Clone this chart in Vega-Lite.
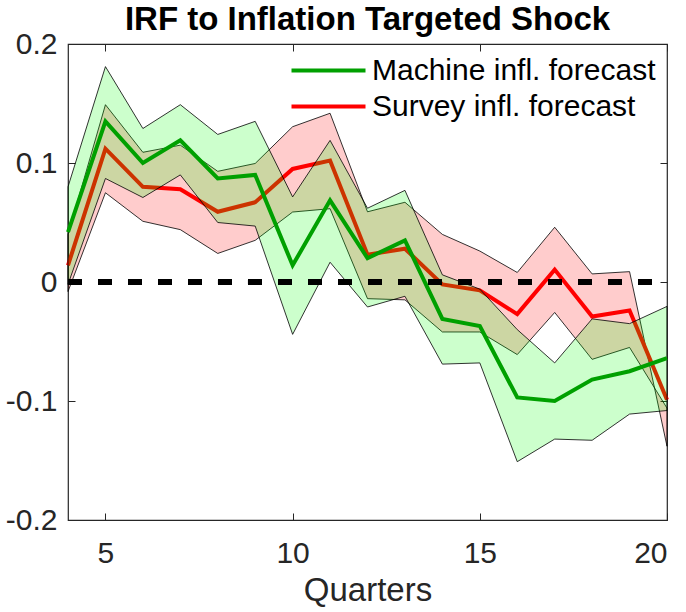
{
  "$schema": "https://vega.github.io/schema/vega-lite/v6.json",
  "width": 599,
  "height": 476,
  "autosize": "none",
  "padding": {"left": 68, "top": 44, "right": 19, "bottom": 92},
  "background": "white",
  "config": {
    "font": "Liberation Sans",
    "view": {"stroke": "#262626", "strokeWidth": 1.2},
    "axis": {"grid": false, "domain": false, "tickColor": "#262626", "tickWidth": 1, "labelColor": "#262626", "titleColor": "#262626", "labelFont": "Liberation Sans", "titleFont": "Liberation Sans"}
  },
  "title": {"text": "IRF to Inflation Targeted Shock", "fontSize": 33, "fontWeight": "bold", "color": "black", "anchor": "middle", "offset": -8, "font": "Liberation Sans"},
  "datasets": {
    "machine": [
      {"q": 4, "lo": -0.002, "mid": 0.042, "hi": 0.080},
      {"q": 5, "lo": 0.087, "mid": 0.135, "hi": 0.181},
      {"q": 6, "lo": 0.071, "mid": 0.100, "hi": 0.129},
      {"q": 7, "lo": 0.090, "mid": 0.119, "hi": 0.149},
      {"q": 8, "lo": 0.050, "mid": 0.087, "hi": 0.124},
      {"q": 9, "lo": 0.047, "mid": 0.090, "hi": 0.135},
      {"q": 10, "lo": -0.044, "mid": 0.014, "hi": 0.0715},
      {"q": 11, "lo": 0.0166, "mid": 0.0686, "hi": 0.119},
      {"q": 12, "lo": -0.021, "mid": 0.020, "hi": 0.062},
      {"q": 13, "lo": -0.012, "mid": 0.035, "hi": 0.077},
      {"q": 14, "lo": -0.069, "mid": -0.031, "hi": 0.006},
      {"q": 15, "lo": -0.068, "mid": -0.037, "hi": -0.006},
      {"q": 16, "lo": -0.151, "mid": -0.097, "hi": -0.040},
      {"q": 17, "lo": -0.132, "mid": -0.100, "hi": -0.068},
      {"q": 18, "lo": -0.133, "mid": -0.082, "hi": -0.031},
      {"q": 19, "lo": -0.111, "mid": -0.075, "hi": -0.035},
      {"q": 20, "lo": -0.108, "mid": -0.064, "hi": -0.0205}
    ],
    "survey": [
      {"q": 4, "lo": -0.008, "mid": 0.014, "hi": 0.040},
      {"q": 5, "lo": 0.075, "mid": 0.112, "hi": 0.149},
      {"q": 6, "lo": 0.051, "mid": 0.080, "hi": 0.109},
      {"q": 7, "lo": 0.044, "mid": 0.078, "hi": 0.115},
      {"q": 8, "lo": 0.024, "mid": 0.059, "hi": 0.093},
      {"q": 9, "lo": 0.035, "mid": 0.067, "hi": 0.0996},
      {"q": 10, "lo": 0.0588, "mid": 0.095, "hi": 0.1305},
      {"q": 11, "lo": 0.0616, "mid": 0.102, "hi": 0.1418},
      {"q": 12, "lo": -0.014, "mid": 0.023, "hi": 0.059},
      {"q": 13, "lo": -0.015, "mid": 0.028, "hi": 0.067},
      {"q": 14, "lo": -0.042, "mid": -0.002, "hi": 0.040},
      {"q": 15, "lo": -0.042, "mid": -0.007, "hi": 0.026},
      {"q": 16, "lo": -0.061, "mid": -0.027, "hi": 0.008},
      {"q": 17, "lo": -0.0256, "mid": 0.0104, "hi": 0.046},
      {"q": 18, "lo": -0.065, "mid": -0.029, "hi": 0.0068},
      {"q": 19, "lo": -0.055, "mid": -0.024, "hi": 0.0087},
      {"q": 20, "lo": -0.106, "mid": -0.099, "hi": -0.138}
    ]
  },
  "resolve": {"axis": {"x": "independent", "y": "independent"}},
  "layer": [
    {
      "data": {"name": "survey"},
      "mark": {"type": "area", "fill": "#ff0000", "fillOpacity": 0.2, "stroke": "black", "strokeWidth": 0.8},
      "encoding": {
        "x": {"field": "q", "type": "quantitative", "scale": {"domain": [4, 20], "nice": false, "zero": false},
              "axis": {"values": [5, 10, 15, 20], "tickSize": -7, "labelPadding": 25, "labelFontSize": 30, "title": "Quarters", "titleFontSize": 33, "titleFontWeight": "normal", "titlePadding": 6}},
        "y": {"field": "lo", "type": "quantitative", "scale": {"domain": [-0.2, 0.2], "nice": false, "zero": false},
              "axis": {"values": [-0.2, -0.1, 0, 0.1, 0.2], "tickSize": -7, "labelPadding": 18, "labelFontSize": 30, "title": null,
                       "labelExpr": "datum.value == 0 ? '0' : (datum.value < 0 ? '-' : '') + format(abs(datum.value), '.1f')"}},
        "y2": {"field": "hi"}
      }
    },
    {
      "data": {"name": "survey"},
      "mark": {"type": "line", "strokeWidth": 4},
      "encoding": {
        "x": {"field": "q", "type": "quantitative", "axis": null},
        "y": {"field": "mid", "type": "quantitative", "axis": null},
        "color": {"datum": "Survey infl. forecast", "type": "nominal",
                  "scale": {"domain": ["Machine infl. forecast", "Survey infl. forecast"], "range": ["#00a000", "#ff0000"]},
                  "legend": {"title": null, "orient": "none", "legendX": 240, "legendY": 6, "symbolType": "M-2,0H2", "symbolStrokeWidth": 4, "symbolSize": 1369, "labelFontSize": 30, "labelColor": "black", "labelOffset": 23, "labelLimit": 500, "rowPadding": 0, "labelFont": "Liberation Sans"}}
      }
    },
    {
      "data": {"name": "machine"},
      "mark": {"type": "area", "fill": "#00ff00", "fillOpacity": 0.2, "stroke": "black", "strokeWidth": 0.8},
      "encoding": {
        "x": {"field": "q", "type": "quantitative", "axis": null},
        "y": {"field": "lo", "type": "quantitative", "axis": null},
        "y2": {"field": "hi"}
      }
    },
    {
      "data": {"name": "machine"},
      "mark": {"type": "line", "strokeWidth": 4},
      "encoding": {
        "x": {"field": "q", "type": "quantitative", "axis": {"orient": "top", "values": [5, 10, 15, 20], "tickSize": -7, "labels": false, "title": null}},
        "y": {"field": "mid", "type": "quantitative", "axis": {"orient": "right", "values": [-0.2, -0.1, 0, 0.1, 0.2], "tickSize": -7, "labels": false, "title": null}},
        "color": {"datum": "Machine infl. forecast", "type": "nominal"}
      }
    },
    {
      "data": {"name": "machine"},
      "mark": {"type": "rule", "color": "black", "strokeWidth": 4.5, "strokeDash": [14, 16]},
      "encoding": {
        "x": {"datum": 4, "type": "quantitative", "axis": null},
        "x2": {"datum": 20},
        "y": {"datum": 0, "type": "quantitative", "axis": null}
      }
    }
  ]
}
